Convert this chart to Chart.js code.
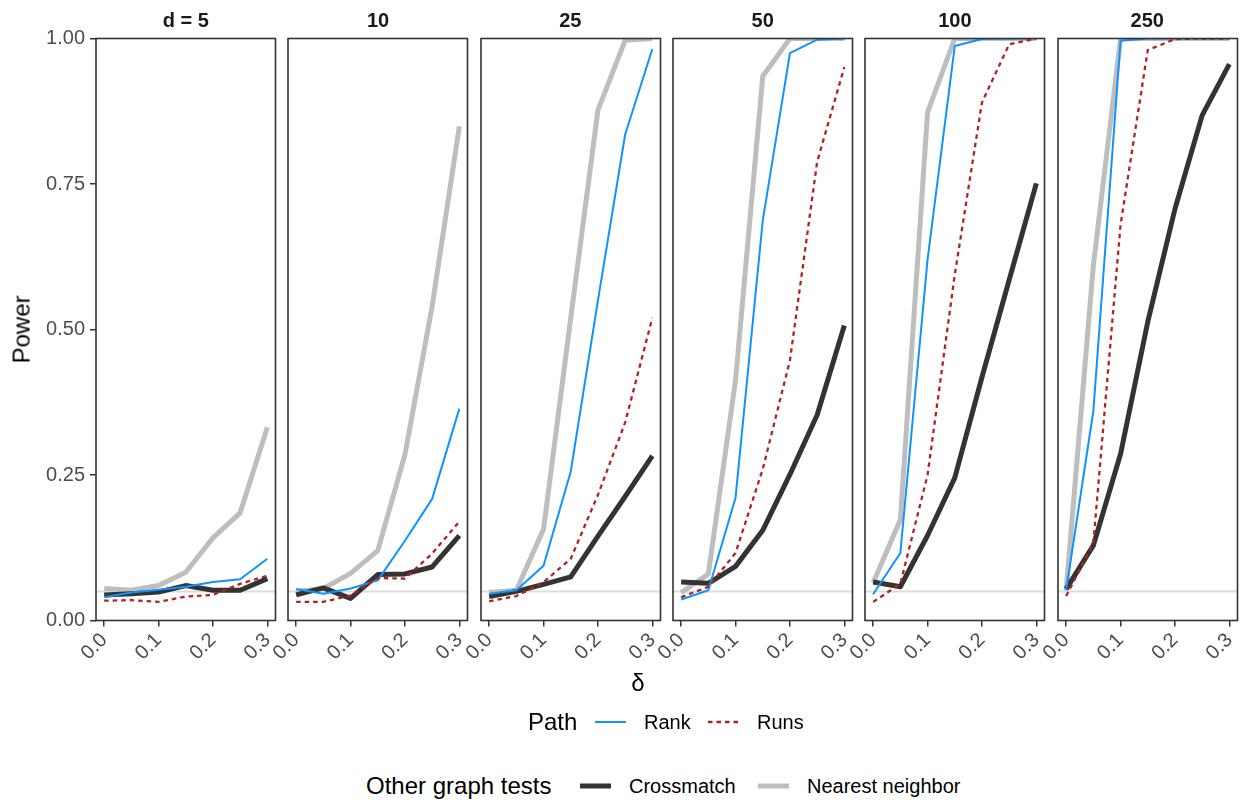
<!DOCTYPE html>
<html><head><meta charset="utf-8">
<script src="https://cdn.jsdelivr.net/npm/chart.js@4.4.1/dist/chart.umd.min.js"></script>
<style>
body{margin:0;background:#fff;width:1247px;height:803px;position:relative;overflow:hidden;font-family:"Liberation Sans",Arial,Helvetica,sans-serif;}
canvas.pc{position:absolute;top:0;}
.txt{position:absolute;white-space:nowrap;color:#000;}
svg.leg{position:absolute;left:0;top:0;}
</style></head><body>
<script>
// ---- data ----
const delta = [0, 0.05, 0.1, 0.15, 0.2, 0.25, 0.3];
const dimLabels = ['d = 5', '10', '25', '50', '100', '250'];
const xTicks = [0, 0.1, 0.2, 0.3];
const yTicks = [0, 0.25, 0.5, 0.75, 1];
const nominalLevel = 0.05;

const rankPower = [
  [0.040, 0.048, 0.053, 0.058, 0.066, 0.071, 0.106],
  [0.054, 0.046, 0.055, 0.069, 0.137, 0.209, 0.364],
  [0.046, 0.052, 0.094, 0.256, 0.550, 0.835, 0.982],
  [0.036, 0.052, 0.211, 0.687, 0.975, 0.998, 1.000],
  [0.045, 0.116, 0.620, 0.987, 0.999, 1.000, 1.000],
  [0.052, 0.360, 0.996, 1.000, 1.000, 1.000, 1.000]
];
const runsPower = [
  [0.034, 0.035, 0.032, 0.041, 0.044, 0.063, 0.077],
  [0.032, 0.032, 0.043, 0.073, 0.072, 0.115, 0.170],
  [0.033, 0.042, 0.066, 0.106, 0.216, 0.340, 0.520],
  [0.040, 0.058, 0.116, 0.260, 0.447, 0.788, 0.951],
  [0.032, 0.063, 0.250, 0.594, 0.890, 0.990, 1.000],
  [0.042, 0.133, 0.680, 0.980, 0.999, 1.000, 1.000]
];
const crossmatchPower = [
  [0.044, 0.046, 0.049, 0.060, 0.052, 0.052, 0.072],
  [0.044, 0.056, 0.038, 0.079, 0.080, 0.092, 0.146],
  [0.041, 0.050, 0.062, 0.075, 0.145, 0.213, 0.283],
  [0.066, 0.064, 0.093, 0.155, 0.251, 0.353, 0.507],
  [0.066, 0.058, 0.146, 0.245, 0.418, 0.585, 0.751],
  [0.054, 0.129, 0.286, 0.513, 0.707, 0.868, 0.956]
];
const nnPower = [
  [0.055, 0.052, 0.060, 0.083, 0.142, 0.185, 0.332],
  [0.050, 0.055, 0.081, 0.120, 0.285, 0.540, 0.849],
  [0.048, 0.052, 0.157, 0.520, 0.877, 0.997, 1.000],
  [0.048, 0.080, 0.413, 0.935, 1.000, 1.000, 1.000],
  [0.065, 0.173, 0.873, 1.000, 1.000, 1.000, 1.000],
  [0.052, 0.610, 1.000, 1.000, 1.000, 1.000, 1.000]
];

// ---- styling / layout ----
const FONT = '"Liberation Sans", Arial, Helvetica, sans-serif';
const COL = {rank:'#0f93ff', runs:'#b22222', cross:'#333333', nn:'#bebebe', ref:'#dcdcdc'};
const xMin = -0.015, xMax = 0.315;
const panelTop = 38.5, panelBottom = 620.5, panelW = 179.5, panelStep = 192.3, firstLeft = 96;
const H = 680;

const framePlugin = {
  id: 'frame',
  afterDraw(chart) {
    const a = chart.chartArea, c = chart.ctx;
    c.save(); c.strokeStyle = '#333333'; c.lineWidth = 1.6;
    c.strokeRect(a.left, a.top, a.right - a.left, a.bottom - a.top);
    c.restore();
  }
};

function addText(txt, x, y, size, opts = {}) {
  const d = document.createElement('div');
  d.className = 'txt';
  d.textContent = txt;
  d.style.fontSize = size + 'px';
  d.style.lineHeight = (size * 1.2) + 'px';
  d.style.top = (y - size * 0.6) + 'px';
  d.style.left = x + 'px';
  if (opts.bold) d.style.fontWeight = 'bold';
  if (opts.color) d.style.color = opts.color;
  if (opts.center) d.style.transform = 'translateX(-50%)';
  if (opts.rotate) { d.style.transform = 'translate(-50%,0) rotate(-90deg)'; d.style.transformOrigin = '50% 50%'; }
  document.body.appendChild(d);
  return d;
}

function series(vals) { return delta.map((x, i) => ({x, y: vals[i]})); }

dimLabels.forEach((lab, i) => {
  const pl = firstLeft + i * panelStep;
  const padL = i === 0 ? 0 : 18;
  const yW = i === 0 ? firstLeft : 0;
  const padR = 8;
  const cLeft = i === 0 ? 0 : pl - padL;
  const cw = Math.round((pl + panelW + padR) - cLeft);
  const cv = document.createElement('canvas');
  cv.className = 'pc';
  cv.width = cw; cv.height = H;
  cv.style.left = cLeft + 'px';
  cv.style.width = cw + 'px'; cv.style.height = H + 'px';
  document.body.appendChild(cv);
  const rightPad = cw - (pl - cLeft) - panelW;

  const lineBase = {pointRadius: 0, tension: 0, borderJoinStyle: 'round', borderCapStyle: 'butt', clip: 0, fill: false};
  new Chart(cv, {
    type: 'line',
    data: {
      datasets: [
        Object.assign({label: 'Runs', data: series(runsPower[i]), borderColor: COL.runs, borderWidth: 2.3, borderDash: [4.5, 4], order: 0}, lineBase),
        Object.assign({label: 'Rank', data: series(rankPower[i]), borderColor: COL.rank, borderWidth: 2, order: 1}, lineBase),
        Object.assign({label: 'Crossmatch', data: series(crossmatchPower[i]), borderColor: COL.cross, borderWidth: 5, order: 2}, lineBase),
        Object.assign({label: 'Nearest neighbor', data: series(nnPower[i]), borderColor: COL.nn, borderWidth: 5, order: 3}, lineBase),
        Object.assign({label: 'nominal', data: [{x: xMin, y: nominalLevel}, {x: xMax, y: nominalLevel}], borderColor: COL.ref, borderWidth: 2, order: 4}, lineBase)
      ]
    },
    options: {
      responsive: false, animation: false, devicePixelRatio: 1,
      layout: {autoPadding: false, padding: {top: panelTop, bottom: 0, left: padL, right: rightPad}},
      plugins: {legend: {display: false}, tooltip: {enabled: false}, title: {display: false}},
      scales: {
        x: {
          type: 'linear', min: xMin, max: xMax,
          afterBuildTicks: s => { s.ticks = xTicks.map(v => ({value: v})); },
          afterFit: s => { s.height = H - panelBottom; s.paddingLeft = 0; s.paddingRight = 0; },
          ticks: {autoSkip: false, minRotation: 45, maxRotation: 45, color: '#4d4d4d', padding: 2,
                  font: {size: 20, family: FONT}, callback: v => Number(v).toFixed(1)},
          grid: {drawOnChartArea: false, drawTicks: true, tickLength: 6, color: '#333333', lineWidth: 1.5},
          border: {display: false}
        },
        y: {
          type: 'linear', min: 0, max: 1, display: i === 0,
          afterBuildTicks: s => { s.ticks = yTicks.map(v => ({value: v})); },
          afterFit: s => { s.width = yW; s.paddingTop = 0; s.paddingBottom = 0; },
          ticks: {color: '#4d4d4d', padding: 5, font: {size: 20, family: FONT}, callback: v => Number(v).toFixed(2)},
          grid: {drawOnChartArea: false, drawTicks: true, tickLength: 6, color: '#333333', lineWidth: 1.5},
          border: {display: false}
        }
      }
    },
    plugins: [framePlugin]
  });

  addText(lab, pl + panelW / 2, 20, 20, {bold: true, center: true, color: '#1a1a1a'});
});

// axis titles
addText('Power', 22, 329, 24, {rotate: true});
addText('δ', 638, 683, 24, {center: true});

// legends
addText('Path', 528, 722, 24);
addText('Rank', 644, 722, 20);
addText('Runs', 757, 722, 20);
addText('Other graph tests', 366, 786, 24);
addText('Crossmatch', 629, 786, 20);
addText('Nearest neighbor', 807, 786, 20);

const svgNS = 'http://www.w3.org/2000/svg';
const svg = document.createElementNS(svgNS, 'svg');
svg.setAttribute('class', 'leg');
svg.setAttribute('width', 1247); svg.setAttribute('height', 803);
function legLine(x1, x2, y, color, w, dash) {
  const l = document.createElementNS(svgNS, 'line');
  l.setAttribute('x1', x1); l.setAttribute('x2', x2);
  l.setAttribute('y1', y); l.setAttribute('y2', y);
  l.setAttribute('stroke', color); l.setAttribute('stroke-width', w);
  if (dash) l.setAttribute('stroke-dasharray', dash);
  svg.appendChild(l);
}
legLine(595, 626, 722, COL.rank, 2);
legLine(708, 740, 722, COL.runs, 2.3, '4.5 4');
legLine(580, 611, 786, COL.cross, 5);
legLine(758, 789, 786, COL.nn, 5);
document.body.appendChild(svg);
</script>
</body></html>
